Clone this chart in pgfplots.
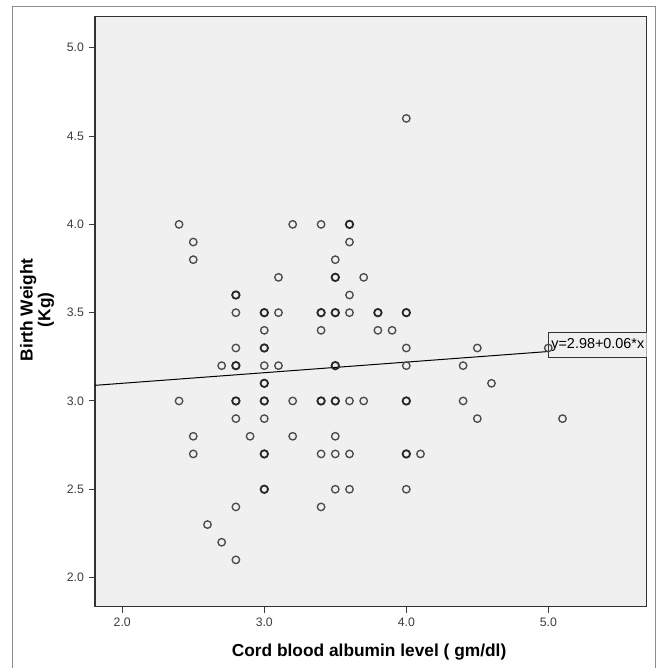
\documentclass[border=0pt]{standalone}
\usepackage{pgfplots}
\pgfplotsset{compat=1.18}
\usepackage{pgfplotstable}
\usepackage{fontspec}
\setmainfont{Liberation Sans}
\definecolor{bg}{RGB}{240,240,240}
\definecolor{tickc}{RGB}{60,60,60}
\definecolor{axisc}{RGB}{50,50,50}
\definecolor{markc}{RGB}{75,75,75}
\definecolor{framec}{RGB}{140,140,140}

\pgfplotstableread{
x y
2.4 4.0
2.5 3.9
2.5 3.8
3.2 4.0
3.4 4.0
3.1 3.7
2.8 3.5
3.1 3.5
3.0 3.4
3.4 3.4
2.8 3.3
2.7 3.2
3.0 3.2
3.1 3.2
2.4 3.0
3.2 3.0
3.6 3.9
3.5 3.8
3.7 3.7
3.6 3.6
3.6 3.5
3.8 3.4
3.9 3.4
4.0 3.3
4.5 3.3
4.0 3.2
4.4 3.2
4.6 3.1
3.6 3.0
3.7 3.0
4.4 3.0
4.5 2.9
2.8 2.9
3.0 2.9
2.5 2.8
2.9 2.8
3.2 2.8
2.5 2.7
3.4 2.7
3.5 2.8
3.5 2.7
3.6 2.7
4.1 2.7
3.5 2.5
3.6 2.5
4.0 2.5
2.8 2.4
3.4 2.4
2.6 2.3
2.7 2.2
2.8 2.1
5.1 2.9
4.0 4.6
5.0 3.3
}\singlepts

\pgfplotstableread{
x y
2.8 3.6
3.0 3.5
3.4 3.5
3.0 3.3
2.8 3.2
3.0 3.1
2.8 3.0
3.0 3.0
3.4 3.0
3.6 4.0
3.5 3.7
3.5 3.5
3.8 3.5
4.0 3.5
3.5 3.2
3.5 3.0
4.0 3.0
3.0 2.7
3.0 2.5
4.0 2.7
}\boldpts

\begin{document}
\begin{tikzpicture}
\useasboundingbox (0,0) rectangle (495pt,501pt);
\draw[framec, line width=0.6pt] (9pt,-2pt) -- (9pt,496.5pt) -- (491.25pt,496.5pt) -- (491.25pt,-2pt);
\begin{axis}[
  at={(71.25pt,45.98pt)}, anchor=south west,
  scale only axis, width=413.8pt, height=442.5pt,
  xmin=1.808, xmax=5.693, ymin=1.835, ymax=5.176,
  xtick={2,3,4,5}, ytick={2,2.5,3,3.5,4,4.5,5},
  tick align=outside, major tick length=4.8pt,
  xtick pos=bottom, ytick pos=left,
  tick style={color=tickc, line width=0.75pt},
  axis line style={color=axisc, line width=0.85pt},
  axis background/.style={fill=bg},
  /pgf/number format/assume math mode=true,
  ticklabel style={font=\fontsize{9.2}{10}\selectfont, color=tickc},
  xticklabel style={/pgf/number format/.cd, fixed, fixed zerofill, precision=1},
  yticklabel style={/pgf/number format/.cd, fixed, fixed zerofill, precision=1},
  xlabel={Cord blood albumin level ( gm/dl)},
  xlabel style={font=\bfseries\fontsize{13}{15}\selectfont, at={(axis description cs:0.4967,-0.0836)}, anchor=base},
  ylabel={Birth Weight\\(Kg)},
  ylabel style={font=\bfseries\fontsize{13}{10.7}\selectfont, align=center, at={(axis description cs:-0.105,0.503)}, anchor=center},
]
\addplot[black, line width=0.75pt] coordinates {(1.808,3.0885) (5.0,3.28)};
\addplot[only marks, mark=o, mark size=2.8pt, mark options={color=markc, line width=1pt}] table[x=x,y=y] {\singlepts};
\addplot[only marks, mark=o, mark size=2.8pt, mark options={color=black!85, line width=1.35pt}] table[x=x,y=y] {\boldpts};
\node[draw=axisc, fill=bg, anchor=west, inner xsep=2pt, minimum height=18.75pt, line width=0.6pt, font=\fontsize{10.8}{12}\selectfont, yshift=4.9pt] at (axis cs:5.0,3.28) {y=2.98+0.06*x};
\end{axis}
\end{tikzpicture}
\end{document}
